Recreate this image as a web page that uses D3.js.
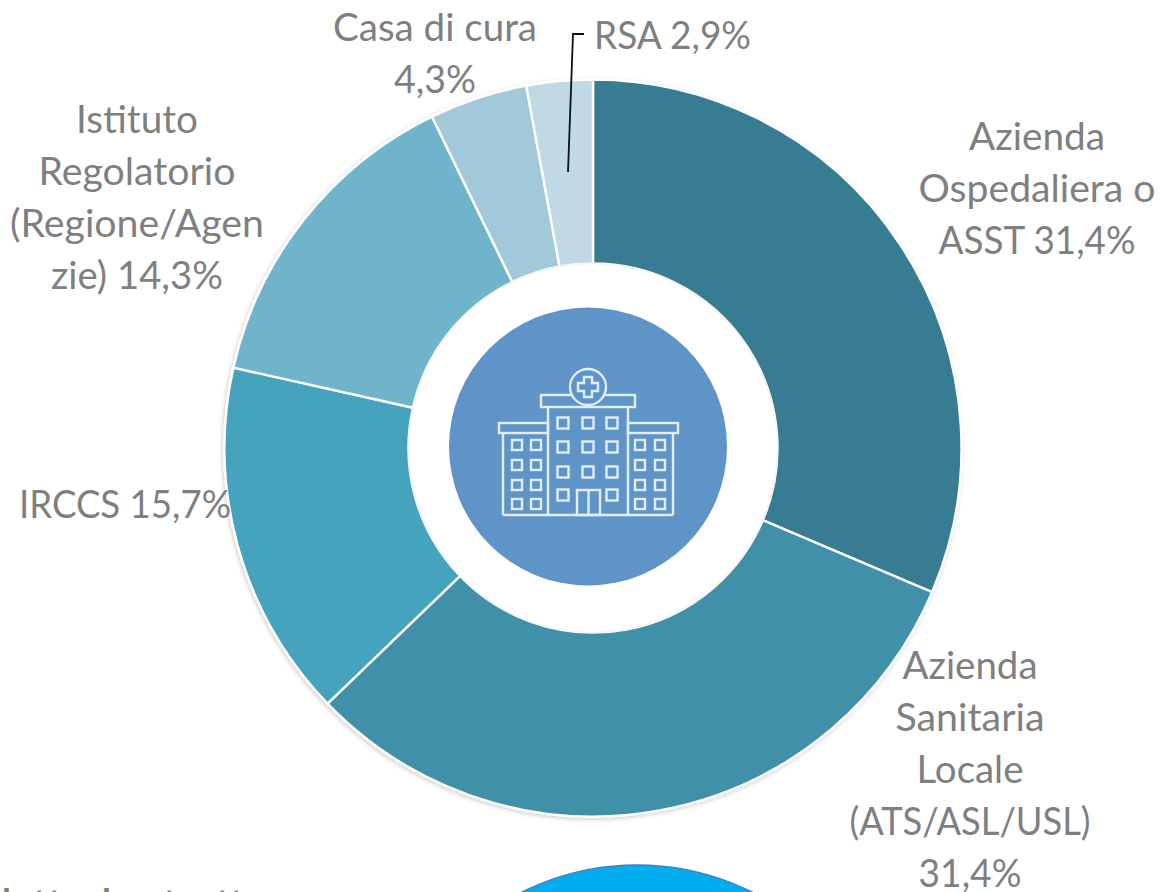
<!DOCTYPE html>
<html><head><meta charset="utf-8">
<style>html,body{margin:0;padding:0;background:#fff}svg{display:block}text{font-family:Lato,"Open Sans",sans-serif;fill:#7f7f7f}</style>
<script src="https://cdn.jsdelivr.net/npm/d3@7"></script></head>
<body><svg id="c" width="1162" height="892"></svg>
<script>
const categories=["Azienda Ospedaliera o ASST","Azienda Sanitaria Locale (ATS/ASL/USL)","IRCCS","Istituto Regolatorio (Regione/Agenzie)","Casa di cura","RSA"];
const values=[31.4,31.4,15.7,14.3,4.3,2.9];
const colors=["#377c93","#3f90aa","#45a3bd","#70b4cc","#a2c9da","#c0d9e4"];
const labelLines=[["Azienda","Ospedaliera o","ASST 31,4%"],["Azienda","Sanitaria","Locale","(ATS/ASL/USL)","31,4%"],["IRCCS 15,7%"],["Istituto","Regolatorio","(Regione/Agen","zie) 14,3%"],["Casa di cura","4,3%"],["RSA 2,9%"]];
const labelCenters=[[1037,137],[970,666],[125,505],[137,120],[435,28],[672.5,36]];
const labelWidths=[[136,237,197],[135,149,107,241,103],[212],[122,197,254,172],[204,82],[157]];
// The reference's bottom edge cuts a bold line of text down to the tips of its tall letters.
// The wording cannot be read, so these glyphs only reproduce the visible tips.
const clippedGlyphs="lttlttt";
const clippedGlyphX=[2,33,48,102,163,216,230];
const lineHeight=52;
const svg=d3.select("#c");
const defs=svg.append("defs");
const sh=defs.append("filter").attr("id","sh").attr("x","-10%").attr("y","-10%").attr("width","120%").attr("height","120%");
sh.append("feDropShadow").attr("dx",-1).attr("dy",1.5).attr("stdDeviation",2).attr("flood-color","#000").attr("flood-opacity",0.2);
const cx=593,cy=448,R=368.5,r0=184.5;
const pie=d3.pie().sort(null).value((d,i)=>values[i]);
const arc=d3.arc().innerRadius(r0).outerRadius(R);
const g=svg.append("g").attr("transform",`translate(${cx},${cy})`).attr("filter","url(#sh)");
g.selectAll("path").data(pie(values)).join("path").attr("d",arc).attr("fill",(d,i)=>colors[i]).attr("stroke","#fff").attr("stroke-width",2.4);
svg.append("circle").attr("cx",cx).attr("cy",cy).attr("r",r0).attr("fill","#fff").attr("stroke","#f0f0f0").attr("stroke-width",1);
svg.append("circle").attr("cx",588).attr("cy",446.5).attr("r",139).attr("fill","#5f94c9");
const ic=svg.append("g").attr("fill","none").attr("stroke","#e3edf6").attr("stroke-width",2.4);
const rect=(x,y,w,h)=>ic.append("rect").attr("x",x).attr("y",y).attr("width",w).attr("height",h);
const ln=(x1,y1,x2,y2)=>ic.append("line").attr("x1",x1).attr("y1",y1).attr("x2",x2).attr("y2",y2);
rect(499,423,49,10);rect(628,423,50,10);rect(541,395,94,12);
ln(503,433,503,515);ln(503,515,673,515);ln(673,433,673,515);ln(548,407,548,515);ln(628,407,628,515);
ic.append("circle").attr("cx",588).attr("cy",387).attr("r",18).attr("fill","#5f94c9");
ic.append("path").attr("d","M584 377h8v6h6v8h-6v6h-8v-6h-6v-8h6z");
[563,588,612].forEach(x=>[423,447,472].forEach(y=>rect(x-5.5,y-5.5,11,11)));
[563,612].forEach(x=>rect(x-5.5,489.5,11,11));
rect(577,490,23,25);ln(588.5,490,588.5,515);
[517,536,640,660].forEach(x=>[445,465,485,504].forEach(y=>rect(x-5,y-5,10,10)));
svg.append("path").attr("d","M568 172L573 34H584").attr("fill","none").attr("stroke","#111").attr("stroke-width",1.8);
svg.append("circle").attr("cx",637).attr("cy",1123).attr("r",258).attr("fill","#00aeef").attr("stroke","#4a7ebb").attr("stroke-width",1.5);
labelLines.forEach((lines,i)=>{
  const [x,y]=labelCenters[i];
  lines.forEach((s,j)=>svg.append("text").attr("text-anchor","middle").attr("font-size",38.8)
    .attr("x",x).attr("y",y+j*lineHeight+13)
    .attr("textLength",labelWidths[i][j]).attr("lengthAdjust","spacingAndGlyphs").text(s));
});
svg.append("text").attr("font-size",36).attr("font-weight",700).attr("y",915)
  .attr("x",clippedGlyphX.join(" ")).text(clippedGlyphs);
</script></body></html>
